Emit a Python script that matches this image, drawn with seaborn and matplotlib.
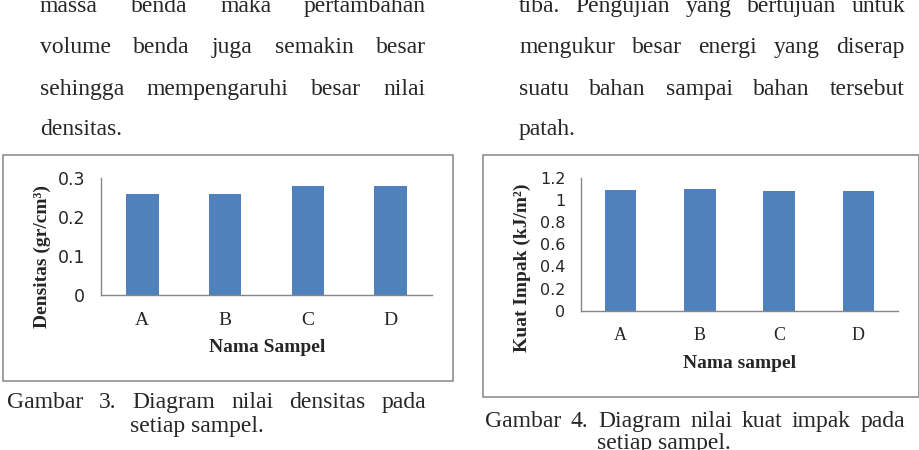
import matplotlib
matplotlib.use("Agg")
import matplotlib.pyplot as plt
from matplotlib.patches import Rectangle
from matplotlib.ticker import FuncFormatter
import seaborn as sns

# ---------------- data ----------------
samples = ["A", "B", "C", "D"]
densitas = [0.26, 0.26, 0.28, 0.28]
kuat_impak = [1.09, 1.10, 1.08, 1.08]
densitas_ticks = [0, 0.1, 0.2, 0.3]
impak_ticks = [0, 0.2, 0.4, 0.6, 0.8, 1.0, 1.2]

left_para = ["massa benda maka pertambahan",
             "volume benda juga semakin besar",
             "sehingga mempengaruhi besar nilai",
             "densitas."]
right_para = ["tiba. Pengujian yang bertujuan untuk",
              "mengukur besar energi yang diserap",
              "suatu bahan sampai bahan tersebut",
              "patah."]
caption_left = ["Gambar 3. Diagram nilai densitas pada", "setiap sampel."]
caption_right = ["Gambar 4. Diagram nilai kuat impak pada", "setiap sampel."]

# ---------------- setup ----------------
sns.set_style("white")
W, H = 920, 450
fig = plt.figure(figsize=(W / 100, H / 100), dpi=100)
fig.patch.set_facecolor("white")
renderer = fig.canvas.get_renderer()

SERIF = "Liberation Serif"
BAR = "#4F81BD"
AXC = "#868686"


def fx(x):
    return x / W


def fy(y):
    return 1 - y / H


def place_line(line, x0, x1, y, size, justify=True):
    words = line.split()
    if not justify or len(words) == 1:
        fig.text(fx(x0), fy(y), line, fontsize=size, family=SERIF,
                 va="baseline", ha="left")
        return
    texts = [fig.text(0, 0, w, fontsize=size, family=SERIF,
                      va="baseline", ha="left") for w in words]
    widths = [t.get_window_extent(renderer).width for t in texts]
    gap = (x1 - x0 - sum(widths)) / (len(words) - 1)
    x = x0
    for t, w in zip(texts, widths):
        t.set_position((fx(x), fy(y)))
        x += w + gap


# body paragraphs (the page scan cuts the first line at the top edge)
baselines = [12, 53, 95, 135]
for i, (ln, rn) in enumerate(zip(left_para, right_para)):
    last = i == len(left_para) - 1
    place_line(ln, 40, 426, baselines[i], 17, justify=not last)
    place_line(rn, 519, 905, baselines[i], 17, justify=not last)

# captions
place_line(caption_left[0], 7, 426, 408, 17)
place_line(caption_left[1], 130, 426, 432, 17, justify=False)
place_line(caption_right[0], 485, 905, 427, 17)
place_line(caption_right[1], 597, 905, 449, 17, justify=False)

# chart frames
for (x0, y0, x1, y1) in [(3, 155, 453, 381), (483, 155, 919, 397)]:
    fig.add_artist(Rectangle((fx(x0), fy(y1)), fx(x1 - x0), (y1 - y0) / H,
                             transform=fig.transFigure, fill=False,
                             edgecolor="#8f8f8f", linewidth=1.2))


def style_chart(ax, values, ticks, ylabel, xlabel, width, ylab_xy, xlab_xy,
                xtick_size, ytick_size):
    sns.barplot(x=samples, y=values, color=BAR, saturation=1, width=width,
                linewidth=0, ax=ax)
    ax.set_ylim(ticks[0], ticks[-1])
    ax.set_xlim(-0.5, len(samples) - 0.5)
    ax.set_yticks(ticks)
    ax.yaxis.set_major_formatter(FuncFormatter(lambda v, p: f"{v:g}"))
    for s in ["top", "right"]:
        ax.spines[s].set_visible(False)
    for s in ["left", "bottom"]:
        ax.spines[s].set_color(AXC)
        ax.spines[s].set_linewidth(1.0)
    ax.tick_params(axis="y", direction="out", length=4.3, width=1.0,
                   color=AXC, pad=7, labelsize=ytick_size)
    ax.tick_params(axis="x", length=0, pad=12)
    for lab in ax.get_yticklabels():
        lab.set_fontfamily("DejaVu Sans")
    for lab in ax.get_xticklabels():
        lab.set_fontfamily(SERIF)
        lab.set_fontsize(xtick_size)
    ax.set_ylabel(ylabel, fontfamily=SERIF, fontweight="bold", fontsize=14)
    ax.yaxis.set_label_coords(*ylab_xy)
    ax.yaxis.label.set_verticalalignment("center")
    ax.set_xlabel(xlabel, fontfamily=SERIF, fontweight="bold", fontsize=14)
    ax.xaxis.set_label_coords(*xlab_xy)
    ax.xaxis.label.set_verticalalignment("center")
    ax.set_facecolor("none")
    ax.grid(False)


# left chart: axes px x 101..432, y 178..295
ax1 = fig.add_axes([fx(101), fy(295), (432 - 101) / W, (295 - 178) / H])
style_chart(ax1, densitas, densitas_ticks, "Densitas (gr/cm³)", "Nama Sampel",
            0.39, ((42 - 101) / 331, (295 - 257) / 117),
            ((267 - 101) / 331, (295 - 348) / 117), 14, 12.5)

# right chart: axes px x 581..898, y 177.7..310.7
ax2 = fig.add_axes([fx(581), fy(310.7), (898 - 581) / W, (310.7 - 177.7) / H])
style_chart(ax2, kuat_impak, impak_ticks, "Kuat Impak (kJ/m²)", "Nama sampel",
            0.40, ((522 - 581) / 317, (310.7 - 268) / 133),
            ((740 - 581) / 317, (310.7 - 363) / 133), 13, 11.5)

fig.savefig("out.png", dpi=100)
